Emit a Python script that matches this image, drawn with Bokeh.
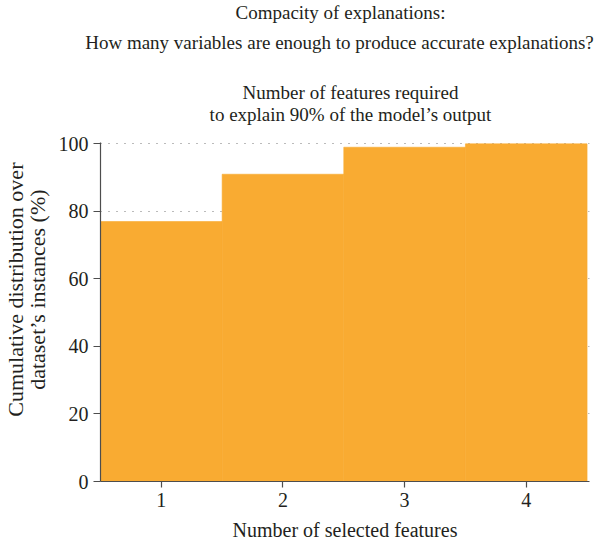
import math
from bokeh.plotting import figure
from bokeh.layouts import column, row
from bokeh.models import Range1d
from bokeh.core.properties import value
from bokeh.embed import file_html
from bokeh.resources import INLINE

# Cumulative share of instances explained by the first k features
features = [1, 2, 3, 4]
cumulative_pct = [77, 91, 99, 100]
y_ticks = [0, 20, 40, 60, 80, 100]

heading_lines = ["Compacity of explanations:",
                 "How many variables are enough to produce accurate explanations?"]
subtitle_lines = ["Number of features required",
                  "to explain 90% of the model\u2019s output"]
y_label_lines = ["Cumulative distribution over",
                 "dataset\u2019s instances (%)"]
x_label = "Number of selected features"

FONT = "Liberation Serif"
INK = "#231F20"
BAR = "#F9AB32"
AXIS = "#4D4D4D"

W, H = 600, 548
TOP_H = 131      # band holding the headings
LEFT_W = 50      # band holding the y-axis title


def blank(width, height, x0, x1, y0, y1):
    # an empty canvas whose data units are plain pixels
    f = figure(width=width, height=height,
               x_range=Range1d(x0, x1), y_range=Range1d(y0, y1),
               output_backend="svg", toolbar_location=None,
               x_axis_location=None, y_axis_location=None,
               min_border=0)
    f.outline_line_color = None
    f.grid.grid_line_color = None
    return f


def caption(f, x, y, text, size, angle=0.0):
    f.text(x=[x], y=[y], text=[text], angle=angle,
           text_align="center", text_baseline="middle",
           text_font=value(FONT), text_font_size=size, text_color=INK)


# headings above the chart
top = blank(W, TOP_H, 0, W, TOP_H, 0)
caption(top, 340, 12, heading_lines[0], "19px")
caption(top, 339, 42, heading_lines[1], "19px")
caption(top, 350, 92, subtitle_lines[0], "19px")
caption(top, 350, 114, subtitle_lines[1], "19px")

# y-axis title, two centred lines
left = blank(LEFT_W, H - TOP_H, 0, LEFT_W, H, TOP_H)
caption(left, 15, 312, y_label_lines[0], "22px", angle=math.pi / 2)
caption(left, 37, 312, y_label_lines[1], "22px", angle=math.pi / 2)

# the chart itself
p = figure(
    width=W - LEFT_W, height=H - TOP_H,
    x_range=Range1d(0.5, 4.52), y_range=Range1d(0, 100.4),
    output_backend="svg", toolbar_location=None,
    min_border_left=50, min_border_right=11,
    min_border_top=142 - TOP_H, min_border_bottom=67,
)
p.outline_line_color = None

p.vbar(x=features, top=cumulative_pct, width=1.0, bottom=0,
       fill_color=BAR, line_color=BAR, line_width=0.6)

# dotted horizontal grid, hidden behind the bars
p.xgrid.grid_line_color = None
p.ygrid.ticker = y_ticks
p.ygrid.grid_line_color = "#777777"
p.ygrid.grid_line_dash = "1 7"
p.ygrid.grid_line_width = 1

for ax in (p.xaxis[0], p.yaxis[0]):
    ax.axis_line_color = AXIS
    ax.axis_line_width = 1.2
    ax.major_tick_line_color = AXIS
    ax.major_tick_line_width = 1.2
    ax.major_tick_in = 0
    ax.minor_tick_line_color = None
    ax.major_label_text_font = FONT
    ax.major_label_text_font_size = "20px"
    ax.major_label_text_color = INK
    ax.axis_label_text_font = FONT
    ax.axis_label_text_color = INK
    ax.axis_label_text_font_style = "normal"

p.xaxis.ticker = features
p.xaxis.major_tick_out = 6
p.xaxis.major_label_standoff = 5
p.xaxis.axis_label = x_label
p.xaxis.axis_label_text_font_size = "20px"
p.xaxis.axis_label_standoff = 9

p.yaxis.ticker = y_ticks
p.yaxis.major_tick_out = 7
p.yaxis.major_label_standoff = 5

layout = column(top, row(left, p, spacing=0), spacing=0)

open("out.html", "w").write(file_html(layout, INLINE))
